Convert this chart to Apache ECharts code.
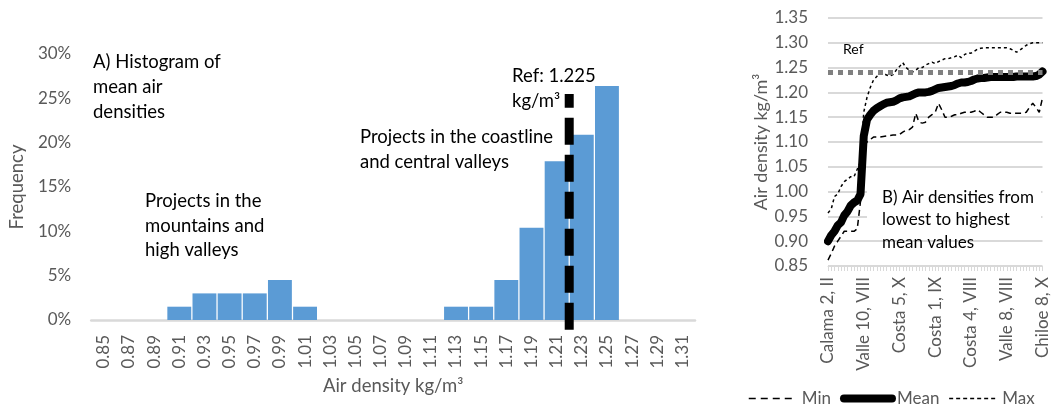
<!DOCTYPE html>
<html>
<head>
<meta charset="utf-8">
<script src="https://cdn.jsdelivr.net/npm/echarts@6/dist/echarts.min.js"></script>
<style>
  html, body { margin: 0; padding: 0; background: #ffffff; }
  #chart { width: 1051px; height: 408px; }
</style>
</head>
<body>
<div id="chart"></div>
<script>
// ---- A) histogram of mean air densities ----
const densityBins = ['0.85','0.87','0.89','0.91','0.93','0.95','0.97','0.99','1.01','1.03','1.05','1.07',
                     '1.09','1.11','1.13','1.15','1.17','1.19','1.21','1.23','1.25','1.27','1.29','1.31'];
const binFrequency = [0, 0, 0, 1.5, 3, 3, 3, 4.5, 1.5, 0, 0, 0,
                      0, 0, 1.5, 1.5, 4.5, 10.4, 17.9, 20.9, 26.4, 0, 0, 0];   // percent of projects
const refDensity = 1.225;                 // kg/m3, standard sea-level air
const refLineSpan = [-1.1, 25.5];         // vertical extent of the reference line, percent

// ---- B) projects sorted from lowest to highest mean density ----
const projectTicks = ['Calama 2, II', 'Valle 10, VIII', 'Costa 5, X', 'Costa 1, IX',
                      'Costa 4, VIII', 'Valle 8, VIII', 'Chiloe 8, X'];
const meanDensity = [0.900, 0.912, 0.920, 0.932, 0.938, 0.952, 0.960, 0.972, 0.978, 0.982, 0.995,
  1.112, 1.145, 1.155, 1.163, 1.168, 1.172, 1.176, 1.179, 1.180, 1.181, 1.184, 1.188,
  1.190, 1.191, 1.192, 1.195, 1.198, 1.200, 1.200, 1.200, 1.201, 1.203, 1.206, 1.209,
  1.210, 1.211, 1.212, 1.213, 1.215, 1.218, 1.220, 1.220, 1.221, 1.223, 1.226, 1.228, 1.229, 1.229,
  1.230, 1.231, 1.231, 1.231, 1.231, 1.231, 1.231, 1.231, 1.231, 1.232, 1.232, 1.232, 1.232, 1.232,
  1.232, 1.233, 1.236, 1.242];
const minDensity = [0.862, 0.875, 0.890, 0.900, 0.910, 0.920, 0.920, 0.920, 0.920, 0.925, 0.980,
  1.090, 1.100, 1.105, 1.110, 1.110, 1.110, 1.111, 1.112, 1.113, 1.114, 1.114, 1.115,
  1.120, 1.124, 1.125, 1.130, 1.158, 1.140, 1.138, 1.140, 1.150, 1.155, 1.160, 1.178,
  1.165, 1.150, 1.150, 1.152, 1.155, 1.155, 1.158, 1.160, 1.160, 1.160, 1.162, 1.165, 1.160, 1.155,
  1.150, 1.150, 1.150, 1.155, 1.160, 1.160, 1.160, 1.158, 1.158, 1.158, 1.158, 1.158, 1.160, 1.170,
  1.178, 1.170, 1.160, 1.189];
const maxDensity = [0.957, 0.965, 0.990, 0.995, 1.010, 1.020, 1.025, 1.030, 1.030, 1.045, 1.060,
  1.160, 1.190, 1.210, 1.225, 1.232, 1.238, 1.239, 1.235, 1.233, 1.236, 1.245, 1.252,
  1.260, 1.250, 1.245, 1.241, 1.245, 1.250, 1.250, 1.255, 1.258, 1.261, 1.258, 1.262,
  1.265, 1.268, 1.268, 1.270, 1.272, 1.275, 1.270, 1.276, 1.280, 1.279, 1.283, 1.287, 1.289, 1.290,
  1.290, 1.290, 1.290, 1.290, 1.290, 1.290, 1.290, 1.288, 1.285, 1.281, 1.285, 1.290, 1.295, 1.298,
  1.300, 1.300, 1.300, 1.300];
const refLevelB = 1.238;

const FONT = 'Lato, "Open Sans", sans-serif';
const GREY = '#595959';
const tickEvery = 11;

const chart = echarts.init(document.getElementById('chart'), null, { renderer: 'canvas' });

const option = {
  backgroundColor: '#ffffff',
  animation: false,
  textStyle: { fontFamily: FONT },
  grid: [
    { left: 85, right: 356, top: 54, bottom: 88 },
    { left: 828, right: 8, top: 18, bottom: 142 }
  ],
  xAxis: [
    {
      type: 'category', gridIndex: 0, data: densityBins,
      name: 'Air density kg/m³', nameLocation: 'middle', nameGap: 55,
      nameTextStyle: { color: GREY, fontSize: 18.5, fontFamily: FONT },
      axisLine: { lineStyle: { color: '#D9D9D9', width: 2.5 } },
      axisTick: { show: false },
      axisLabel: { rotate: 90, interval: 0, margin: 15, color: GREY, fontSize: 17, fontFamily: FONT }
    },
    {
      // helper scale in kg/m3 spanning the same 24 bins, used for the reference line
      type: 'value', gridIndex: 0, min: 0.845, max: 1.325, show: false
    },
    {
      type: 'category', gridIndex: 1, boundaryGap: false,
      data: meanDensity.map((_, i) => String(i)),
      axisLine: { lineStyle: { color: '#D9D9D9', width: 1 } },
      axisTick: { show: true, interval: 0, length: 5, lineStyle: { color: '#D9D9D9', width: 1 } },
      axisLabel: {
        rotate: 90, interval: tickEvery - 1, margin: 11, color: GREY, fontSize: 17, fontFamily: FONT,
        formatter: (v, i) => projectTicks[i / tickEvery] || ''
      }
    }
  ],
  yAxis: [
    {
      type: 'value', gridIndex: 0, min: 0, max: 30, interval: 5,
      name: 'Frequency', nameLocation: 'middle', nameGap: 61,
      nameTextStyle: { color: GREY, fontSize: 18.5, fontFamily: FONT },
      axisLine: { show: false }, axisTick: { show: false }, splitLine: { show: false },
      axisLabel: { formatter: '{value}%', color: GREY, fontSize: 17, fontFamily: FONT, margin: 20 }
    },
    {
      type: 'value', gridIndex: 1, min: 0.85, max: 1.35, interval: 0.05,
      name: 'Air density kg/m³', nameLocation: 'middle', nameGap: 57,
      nameTextStyle: { color: GREY, fontSize: 18, fontFamily: FONT },
      axisLine: { show: false }, axisTick: { show: false },
      splitLine: { lineStyle: { color: '#D9D9D9', width: 2 } },
      axisLabel: { formatter: v => v.toFixed(2), color: GREY, fontSize: 17, fontFamily: FONT, margin: 20 }
    }
  ],
  legend: {
    left: 748, top: 390, width: 303, padding: 0,
    itemWidth: 48, itemHeight: 10, itemGap: 9,
    textStyle: { color: GREY, fontSize: 17, fontFamily: FONT },
    itemStyle: { opacity: 0 },
    data: [
      { name: 'Min', lineStyle: { width: 1.5, type: [7, 5], color: '#000' } },
      { name: 'Mean', lineStyle: { width: 8, color: '#000' } },
      { name: 'Max', lineStyle: { width: 1.5, type: [4, 3], color: '#000' } }
    ]
  },
  series: [
    {
      type: 'bar', xAxisIndex: 0, yAxisIndex: 0, data: binFrequency,
      barCategoryGap: '5%',
      itemStyle: { color: '#5B9BD5' }
    },
    {
      type: 'line', xAxisIndex: 1, yAxisIndex: 0, clip: false, z: 5,
      symbol: 'none',
      data: [[refDensity, refLineSpan[0]], [refDensity, refLineSpan[1]]],
      lineStyle: { color: '#000', width: 9, type: [27, 10], cap: 'butt' }
    },
    {
      name: 'Min', type: 'line', xAxisIndex: 2, yAxisIndex: 1, data: minDensity,
      symbol: 'none', lineStyle: { color: '#000', width: 1.5, type: [6, 4] }
    },
    {
      name: 'Mean', type: 'line', xAxisIndex: 2, yAxisIndex: 1, data: meanDensity,
      symbol: 'none', lineStyle: { color: '#000', width: 8, cap: 'round', join: 'round' }
    },
    {
      name: 'Max', type: 'line', xAxisIndex: 2, yAxisIndex: 1, data: maxDensity,
      symbol: 'none', lineStyle: { color: '#000', width: 1.5, type: [3, 3] }
    },
    {
      name: 'Ref', type: 'line', xAxisIndex: 2, yAxisIndex: 1, data: [], z: 6,
      markLine: {
        symbol: 'none', silent: true, label: { show: false },
        lineStyle: { color: '#808080', width: 5, type: [5, 5] },
        data: [{ yAxis: refLevelB }]
      }
    }
  ],
  graphic: [
    { type: 'text', left: 93, top: 50, style: { text: 'A) Histogram of\nmean air\ndensities', fill: '#000', fontSize: 18.5, fontFamily: FONT, lineHeight: 25 } },
    { type: 'text', left: 145, top: 189, style: { text: 'Projects in the\nmountains and\nhigh valleys', fill: '#000', fontSize: 18.5, fontFamily: FONT, lineHeight: 24.5 } },
    { type: 'text', left: 360, top: 125, style: { text: 'Projects in the coastline\nand central valleys', fill: '#000', fontSize: 18.5, fontFamily: FONT, lineHeight: 25 } },
    { type: 'text', left: 512, top: 64, style: { text: 'Ref: 1.225\nkg/m³', fill: '#000', fontSize: 18.5, fontFamily: FONT, lineHeight: 25 } },
    { type: 'text', left: 843, top: 42, z: 10, style: { text: 'Ref', fill: '#000', fontSize: 14, fontFamily: FONT } },
    { type: 'rect', left: 867, top: 183, z: 10, shape: { width: 174, height: 50 }, style: { fill: '#ffffff' } },
    { type: 'text', left: 882, top: 186, z: 11, style: { text: 'B) Air densities from\nlowest to highest\nmean values', fill: '#000', fontSize: 17, fontFamily: FONT, lineHeight: 22.5 } }
  ]
};

chart.setOption(option);
</script>
</body>
</html>
